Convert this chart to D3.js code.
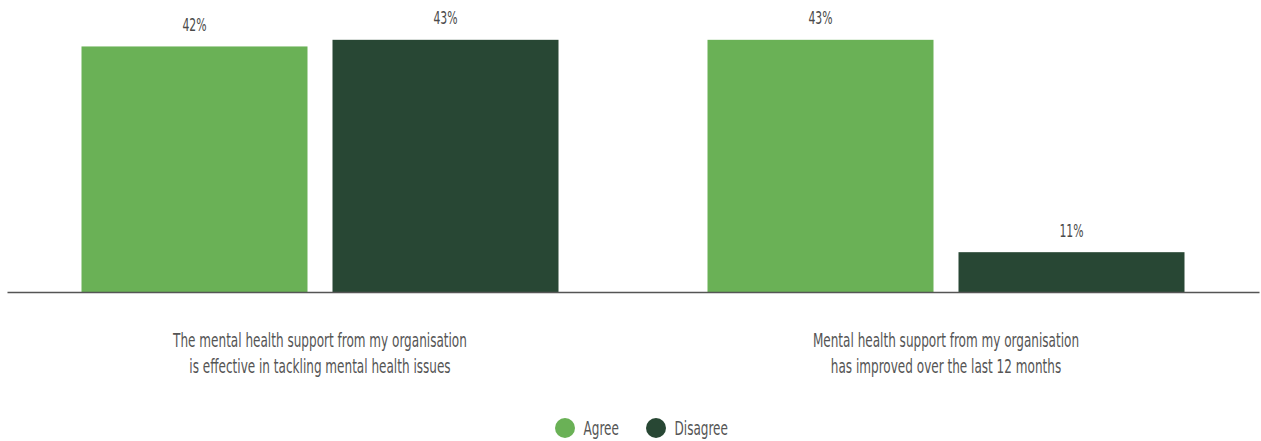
<!DOCTYPE html>
<html><head><meta charset="utf-8">
<script src="https://cdn.jsdelivr.net/npm/d3@7"></script>
<style>
body{margin:0;background:#fff;}
svg text{font-family:"DejaVu Sans Condensed","Liberation Sans Narrow","Roboto",sans-serif;fill:#555;}
</style></head>
<body><svg id="chart" width="1261" height="441"></svg>
<script>
const categories = [
  ["The mental health support from my organisation","is effective in tackling mental health issues"],
  ["Mental health support from my organisation","has improved over the last 12 months"]
];
const seriesNames = ["Agree","Disagree"];
const agreeValues = [42, 43];
const disagreeValues = [43, 11];
const colors = ["#6ab156", "#284734"];

const SX = 0.67; // horizontal compression to mimic condensed typeface
const svg = d3.select("#chart");
const plot = {left: 7, right: 1259, top: 0, bottom: 292};

const x0 = d3.scaleBand().domain(d3.range(categories.length))
  .range([plot.left, plot.right]).paddingInner(0).paddingOuter(0);
const x1 = d3.scaleBand().domain(seriesNames)
  .range([74.5, x0.bandwidth() - 74.5]).paddingInner(25/251).paddingOuter(0);
const y = d3.scaleLinear().domain([5, 49]).range([plot.bottom, plot.top]);

const data = categories.map((c, i) => ({
  i, vals: [{s: "Agree", v: agreeValues[i]}, {s: "Disagree", v: disagreeValues[i]}]
}));

const groups = svg.append("g").selectAll("g.grp").data(data).join("g")
  .attr("transform", d => `translate(${x0(d.i)},0)`);

groups.selectAll("rect").data(d => d.vals).join("rect")
  .attr("x", d => x1(d.s))
  .attr("width", x1.bandwidth())
  .attr("y", d => y(d.v))
  .attr("height", d => y.range()[0] - y(d.v))
  .attr("fill", d => colors[seriesNames.indexOf(d.s)]);

groups.selectAll("text.val").data(d => d.vals).join("text")
  .attr("class", "val")
  .attr("text-anchor", "middle")
  .attr("transform", d => `translate(${x1(d.s) + x1.bandwidth() / 2},${y(d.v) - 15.5}) scale(${SX},1)`)
  .style("font-size", "18px")
  .style("fill", "#4a4a4a")
  .text(d => d.v + "%");

// baseline axis
const xAxis = d3.axisBottom(x0).tickSize(0).tickFormat("");
const ax = svg.append("g").attr("transform", `translate(0,${plot.bottom})`).call(xAxis);
ax.select(".domain").attr("stroke", "#555").attr("stroke-width", 1.5);

// category labels
const cg = svg.append("g").selectAll("g.cat").data(categories).join("g")
  .attr("class", "cat")
  .attr("transform", (d, i) => `translate(${x0(i) + x0.bandwidth() / 2},0)`);
cg.selectAll("text").data(d => d).join("text")
  .attr("text-anchor", "middle")
  .style("font-size", "20px")
  .attr("transform", (d, j) => `translate(0,${346.5 + j * 26.5}) scale(${SX},1)`)
  .text(d => d);

// legend
const legend = svg.append("g");
const legendX = [565, 656];
seriesNames.forEach((s, i) => {
  legend.append("circle").attr("cx", legendX[i]).attr("cy", 428).attr("r", 10).attr("fill", colors[i]);
  legend.append("text")
    .attr("transform", `translate(${legendX[i] + 18.5},434.5) scale(${SX},1)`)
    .style("font-size", "20px").text(s);
});
</script></body></html>
